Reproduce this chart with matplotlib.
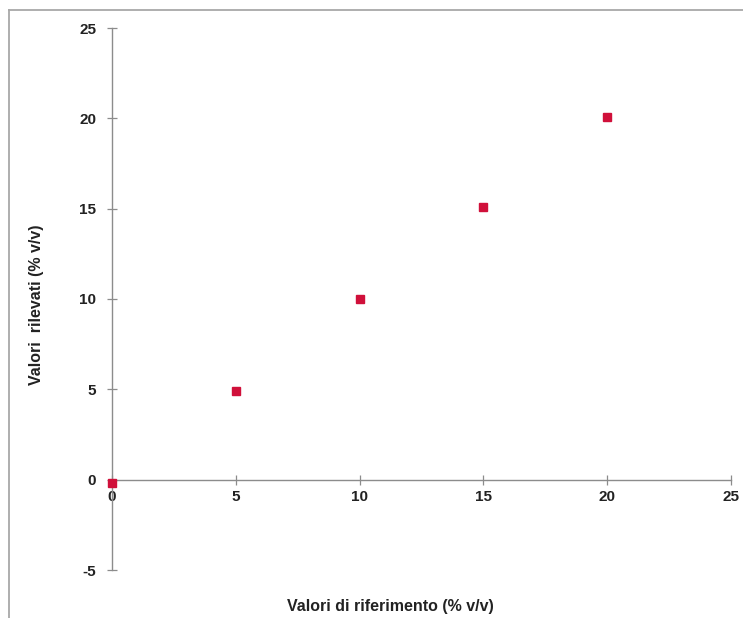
import matplotlib
matplotlib.use("Agg")
import matplotlib.pyplot as plt
from matplotlib.lines import Line2D

plt.rcParams['font.family'] = ['Liberation Sans', 'DejaVu Sans']
plt.rcParams['axes.unicode_minus'] = False

# Reference vs measured values (% v/v)
riferimento = [0, 5, 10, 15, 20]
rilevati = [-0.2, 4.9, 10.0, 15.1, 20.1]

x_ticks = [0, 5, 10, 15, 20, 25]
y_ticks = [-5, 0, 5, 10, 15, 20, 25]

axis_grey = '#8c8c8c'

fig = plt.figure(figsize=(7.43, 6.18), dpi=100)
ax = fig.add_axes([112 / 743, 1 - 570 / 618, (731 - 112) / 743, (570 - 28) / 618])

ax.plot(riferimento, rilevati, linestyle='none', marker='s', markersize=5.6,
        color='#d0103a', clip_on=False, zorder=5)

ax.set_xlim(0, 25)
ax.set_ylim(-5, 25)
ax.set_xticks(x_ticks)
ax.set_yticks(y_ticks)

# axes crossing at the origin
ax.spines['left'].set_position(('data', 0))
ax.spines['bottom'].set_position(('data', 0))
ax.spines['top'].set_visible(False)
ax.spines['right'].set_visible(False)
for s in ('left', 'bottom'):
    ax.spines[s].set_color(axis_grey)
    ax.spines[s].set_linewidth(1.0)

ax.tick_params(direction='inout', length=7, width=0.9, color=axis_grey,
               labelsize=11, labelcolor='#222222')
ax.tick_params(axis='y', pad=8)
ax.tick_params(axis='x', pad=4)
for lbl in ax.get_xticklabels() + ax.get_yticklabels():
    lbl.set_fontweight('bold')

fig.text(390 / 743, 1 - 607 / 618, 'Valori di riferimento (% v/v)',
         ha='center', va='center', fontsize=11.5, fontweight='bold', color='#222222')
fig.text(37 / 743, 1 - 305 / 618, 'Valori  rilevati (% v/v)', rotation=90,
         ha='center', va='center', fontsize=11.5, fontweight='bold', color='#222222')

# outer frame (top and left edges)
fig.add_artist(Line2D([9 / 743, 9 / 743], [0, 1 - 10 / 618],
                      transform=fig.transFigure, color='#a8a8a8', linewidth=1.3))
fig.add_artist(Line2D([9 / 743, 1], [1 - 10 / 618, 1 - 10 / 618],
                      transform=fig.transFigure, color='#a8a8a8', linewidth=1.3))

fig.savefig('out.png', dpi=100)
